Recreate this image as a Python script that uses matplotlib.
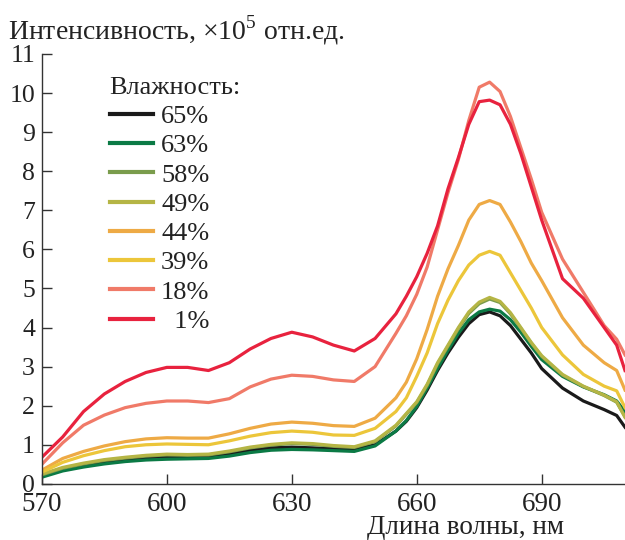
import numpy as np
import matplotlib
matplotlib.use("Agg")
import matplotlib.pyplot as plt

plt.rcParams['font.family'] = ['Liberation Serif', 'DejaVu Serif']
plt.rcParams['mathtext.fontset'] = 'custom'
plt.rcParams['mathtext.rm'] = 'Liberation Serif'

# wavelengths, nm
wl = [570, 575, 580, 585, 590, 595, 600, 605, 610, 615, 620, 625, 630, 635, 640, 645,
      650, 655, 657.5, 660, 662.5, 665, 667.5, 670, 672.5, 675, 677.5, 680, 682.5, 685,
      687.5, 690, 695, 700, 705, 708, 710]

# intensity, x10^5 a.u.
h65 = [0.20, 0.38, 0.48, 0.56, 0.62, 0.66, 0.69, 0.69, 0.70, 0.76, 0.86, 0.92, 0.94, 0.92, 0.90, 0.88,
       1.00, 1.35, 1.60, 1.95, 2.40, 2.90, 3.35, 3.75, 4.10, 4.33, 4.40, 4.30, 4.05, 3.70,
       3.35, 2.95, 2.45, 2.12, 1.90, 1.75, 1.45]
h63 = [0.17, 0.33, 0.43, 0.51, 0.57, 0.61, 0.63, 0.64, 0.65, 0.71, 0.80, 0.86, 0.88, 0.87, 0.85, 0.83,
       0.97, 1.35, 1.62, 1.98, 2.45, 2.95, 3.42, 3.85, 4.20, 4.40, 4.47, 4.42, 4.20, 3.88,
       3.52, 3.18, 2.75, 2.48, 2.28, 2.12, 1.85]
h58 = [0.23, 0.40, 0.51, 0.60, 0.66, 0.71, 0.74, 0.73, 0.74, 0.82, 0.92, 0.99, 1.03, 1.01, 0.96, 0.93,
       1.08, 1.48, 1.78, 2.08, 2.52, 3.07, 3.52, 3.97, 4.36, 4.61, 4.73, 4.64, 4.35, 3.98,
       3.60, 3.26, 2.78, 2.49, 2.26, 2.09, 1.72]
h49 = [0.25, 0.42, 0.53, 0.62, 0.68, 0.73, 0.76, 0.75, 0.76, 0.84, 0.94, 1.01, 1.05, 1.03, 0.98, 0.95,
       1.10, 1.50, 1.80, 2.10, 2.55, 3.10, 3.55, 4.00, 4.40, 4.65, 4.77, 4.67, 4.38, 4.00,
       3.62, 3.28, 2.80, 2.50, 2.27, 2.10, 1.70]
h44 = [0.35, 0.65, 0.83, 0.97, 1.08, 1.15, 1.18, 1.17, 1.17, 1.28, 1.42, 1.53, 1.58, 1.55, 1.49, 1.47,
       1.68, 2.20, 2.60, 3.20, 3.95, 4.80, 5.50, 6.10, 6.75, 7.15, 7.25, 7.15, 6.70, 6.20,
       5.65, 5.20, 4.25, 3.55, 3.10, 2.90, 2.40]
h39 = [0.30, 0.55, 0.72, 0.85, 0.95, 1.00, 1.02, 1.01, 1.00, 1.10, 1.22, 1.31, 1.35, 1.32, 1.25, 1.24,
       1.42, 1.85, 2.20, 2.75, 3.35, 4.10, 4.70, 5.20, 5.60, 5.85, 5.95, 5.85, 5.40, 4.95,
       4.50, 4.00, 3.30, 2.80, 2.50, 2.38, 1.95]
h18 = [0.50, 1.05, 1.50, 1.76, 1.95, 2.06, 2.12, 2.12, 2.08, 2.18, 2.48, 2.68, 2.78, 2.75, 2.66, 2.62,
       3.00, 3.85, 4.30, 4.85, 5.55, 6.50, 7.45, 8.30, 9.30, 10.15, 10.28, 10.04, 9.40, 8.60,
       7.80, 6.95, 5.75, 4.90, 4.05, 3.70, 3.30]
h01 = [0.68, 1.20, 1.85, 2.30, 2.62, 2.85, 2.98, 2.98, 2.90, 3.10, 3.45, 3.72, 3.88, 3.76, 3.55, 3.40,
       3.72, 4.35, 4.80, 5.30, 5.90, 6.60, 7.55, 8.35, 9.20, 9.78, 9.82, 9.70, 9.20, 8.45,
       7.60, 6.75, 5.25, 4.75, 4.00, 3.55, 2.90]

labels = ["65%", "63%", "58%", "49%", "44%", "39%", "18%", "\u20071%"]
series = [h65, h63, h58, h49, h44, h39, h18, h01]
colors = ["#1a1a1a", "#0b7a45", "#7a9c4c", "#b5b545", "#eeaa45", "#ecc63a", "#f07a68", "#e8223e"]

fig = plt.figure(figsize=(6.25, 5.4), dpi=100)
ax = fig.add_axes([0.067, 0.104, 0.933, 0.796])

for y, c, lab in zip(series, colors, labels):
    ax.plot(wl, y, color=c, lw=2.3, label=lab)

ax.set_xlim(570, 710)
ax.set_ylim(0, 11)
ax.set_xticks([570, 600, 630, 660, 690])
ax.set_yticks(range(0, 12))
ax.spines['top'].set_visible(False)
ax.spines['right'].set_visible(False)
for s in ['left', 'bottom']:
    ax.spines[s].set_color('#333333')
    ax.spines[s].set_linewidth(1.0)
ax.tick_params(direction='in', length=7, width=1.0, color='#333333', labelcolor='#222222')
ax.tick_params(axis='x', labelsize=19.5, pad=6)
ax.tick_params(axis='y', labelsize=18.5, pad=5)
for t in ax.get_yticklabels():
    t.set_va('center_baseline')

fig.text(0.013, 0.945, "Интенсивность, $\\times$10$^5$ отн.ед.", fontsize=20,
         color='#222222', va='center', ha='left')
fig.text(0.903, 0.024, "Длина волны, нм", fontsize=19.5, color='#222222', va='center', ha='right')

leg = ax.legend(title="Влажность:", loc='upper left', bbox_to_anchor=(0.089, 0.984),
                frameon=False, fontsize=19, title_fontsize=19, handlelength=1.65,
                handletextpad=0.3, labelspacing=0.22, borderaxespad=0.2, alignment='left')
for t in leg.get_texts():
    t.set_color('#222222')
leg.get_title().set_color('#222222')
for l in leg.get_lines():
    l.set_linewidth(3)

fig.savefig("out.png", dpi=100)
